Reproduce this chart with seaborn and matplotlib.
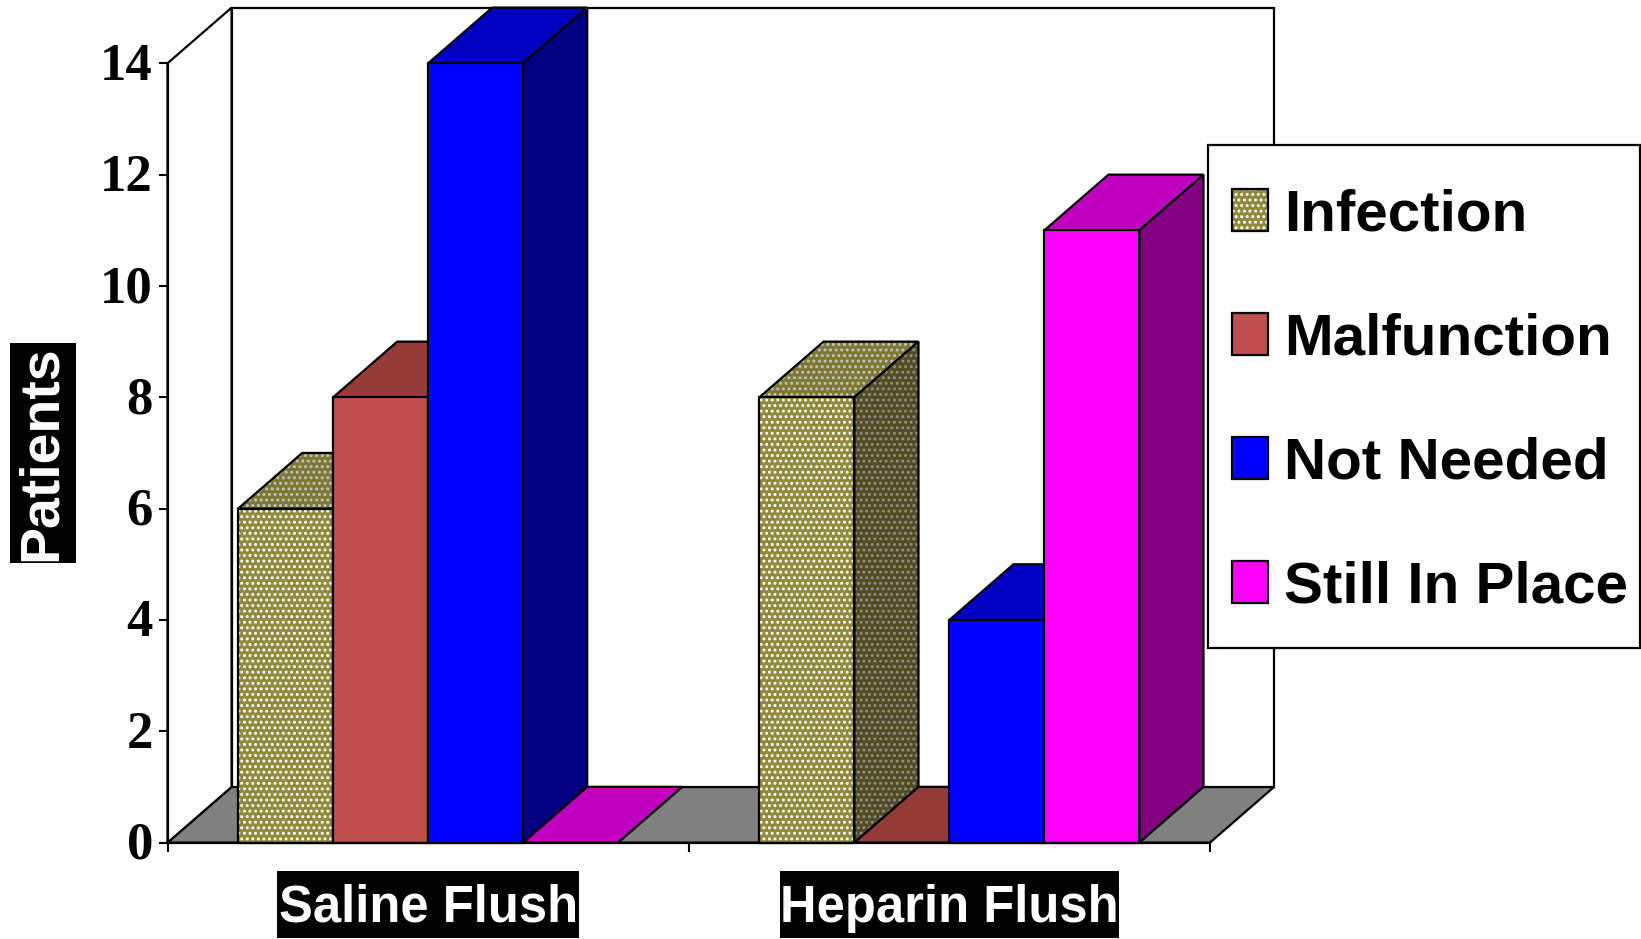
import matplotlib
matplotlib.use("Agg")
import matplotlib.pyplot as plt
import seaborn as sns
import pandas as pd
from matplotlib.patches import Patch, Polygon, Rectangle
from matplotlib.path import Path
from matplotlib.transforms import Affine2D
from matplotlib.legend_handler import HandlerTuple

groups = ["Saline Flush", "Heparin Flush"]
series = ["Infection", "Malfunction", "Not Needed", "Still In Place"]
infection = [6, 8]
malfunction = [8, 0]
not_needed = [14, 4]
still_in_place = [0, 11]
y_ticks = [0, 2, 4, 6, 8, 10, 12, 14]

front = ["#918A3C", "#C0504D", "#0000FF", "#FF00FF"]
top = ["#7D7834", "#953B39", "#0000C0", "#C000C0"]
side = ["#514D22", "#602826", "#000080", "#800080"]
dots = ["white", None, None, None]
top_dots = ["#C4C4C4", None, None, None]
side_dots = ["#909090", None, None, None]

sns.set_theme(style="white")
plt.rcParams["font.family"] = ["Liberation Sans", "DejaVu Sans"]
plt.rcParams["hatch.linewidth"] = 1.35

df = pd.DataFrame({
    "group": groups * 4,
    "kind": [s for s in series for _ in groups],
    "count": infection + malfunction + not_needed + still_in_place,
})

W, H = 1641, 939
fig = plt.figure(figsize=(W / 100, H / 100), dpi=100, facecolor="white")
ax = fig.add_axes([167.5 / W, 1 - 842.6 / H, (1210 - 167.5) / W, (842.6 - 63.3) / H])

sns.barplot(data=df, x="group", y="count", hue="kind", hue_order=series, order=groups,
            palette=front, saturation=1, width=0.729, gap=0, linewidth=0, legend=False, ax=ax)
ax.set_xlim(-0.5, 1.5)
ax.set_ylim(0, 14)
ax.patch.set_visible(False)

# depth of the fake 3d, in data units
dx, dy = 0.123, 1.0
black = dict(edgecolor="black", linewidth=1.6, facecolor="none", clip_on=False)


def face(pts, color, dot, z):
    ax.add_patch(Polygon(pts, closed=True, facecolor=color, edgecolor=dot or color,
                         hatch="..." if dot else None, linewidth=0, clip_on=False, zorder=z))
    ax.add_patch(Polygon(pts, closed=True, zorder=z, **black))


def label_box(half_w, half_h, shift):
    # black box of a set size round a label, sizes in pixels
    def box(x0, y0, w, h, mutation_size):
        cx, cy = x0 + w / 2, y0 + h / 2 + shift
        return Path([(cx - half_w, cy - half_h), (cx + half_w, cy - half_h), (cx + half_w, cy + half_h),
                     (cx - half_w, cy + half_h), (cx - half_w, cy - half_h)], closed=True)
    return box


# walls and floor
face([(-0.5, 0), (-0.5 + dx, dy), (1.5 + dx, dy), (1.5, 0)], "#808080", None, 1)
face([(-0.5, 0), (-0.5 + dx, dy), (-0.5 + dx, 14 + dy), (-0.5, 14)], "white", None, 1)
face([(-0.5 + dx, dy), (-0.5 + dx, 14 + dy), (1.5 + dx, 14 + dy), (1.5 + dx, dy)], "white", None, 1)

for i, bars in enumerate(ax.containers):
    z = 2 + 2 * i
    for bar in bars:
        x0, x1, h = bar.get_x(), bar.get_x() + bar.get_width(), bar.get_height()
        face([(x0, h), (x1, h), (x1 + dx, h + dy), (x0 + dx, h + dy)], top[i], top_dots[i], z)
        if h > 0:
            face([(x1, 0), (x1, h), (x1 + dx, h + dy), (x1 + dx, dy)], side[i], side_dots[i], z)
            bar.set_zorder(z + 1)
            if dots[i]:
                bar.set_edgecolor(dots[i])
                bar.set_hatch("...")
            ax.add_patch(Rectangle((x0, 0), x1 - x0, h, zorder=z + 1, **black))
        else:
            bar.set_visible(False)

# ticks sit between the groups, labels in the middle
ax.set_xticks([-0.5, 0.5, 1.5])
ax.set_xticklabels([])
ax.set_xticks([0, 1], minor=True)
ax.tick_params(axis="x", which="minor", length=0, pad=29.5)
ax.tick_params(axis="x", which="major", length=6.5, width=1.5, color="black", bottom=True)
ax.set_xticklabels(groups, minor=True, fontsize=36.5, fontweight="bold", color="white")
for lab, half_w in zip(ax.get_xticklabels(minor=True), [151, 169.5]):
    lab.set_bbox(dict(boxstyle=label_box(half_w, 33.5, 4), facecolor="black", edgecolor="none"))
ax.tick_params(axis="y", length=6.5, width=1.5, color="black", left=True, pad=4)
ax.set_yticks(y_ticks)
ax.set_yticklabels(y_ticks, fontsize=38, fontweight="bold", family="Liberation Serif", color="black")
for lab in ax.get_yticklabels():
    lab.set_transform(lab.get_transform() + Affine2D().translate(0, 2.2))
ax.set_xlabel("")
ax.set_ylabel("")
sns.despine(ax=ax)
for s in ["left", "bottom"]:
    ax.spines[s].set_color("black")
    ax.spines[s].set_linewidth(1.6)
    ax.spines[s].set_zorder(50)

fig.text(41.5 / W, 1 - 453 / H, "Patients", rotation=90, ha="center", va="center", fontsize=40,
         fontweight="bold", color="white",
         bbox=dict(boxstyle=label_box(110, 33, -1), facecolor="black", edgecolor="none"))

# legend frame is its own box, the legend padding is not the same on all sides
ax.add_patch(Rectangle((1208 / W, 1 - 648 / H), (1640 - 1208) / W, (648 - 145) / H, transform=fig.transFigure,
                       facecolor="white", edgecolor="black", linewidth=1.6, clip_on=False, zorder=99))
handles = []
for i in range(4):
    fill = Patch(facecolor=front[i], edgecolor=dots[i] or front[i], hatch="..." if dots[i] else None, linewidth=0)
    handles.append((fill, Patch(facecolor="none", edgecolor="black", linewidth=1.6)))
leg = ax.legend(handles, series, handler_map={tuple: HandlerTuple(ndivide=1, pad=0)},
                loc="upper left", bbox_to_anchor=(1232 / W, 1 - 188.5 / H), bbox_transform=fig.transFigure,
                prop=dict(family="Liberation Sans", weight="bold", size=42), labelcolor="black",
                frameon=False, borderaxespad=0, borderpad=0, handlelength=0.62, handleheight=0.71,
                handletextpad=0.28, labelspacing=1.2)
leg.set_zorder(100)

fig.savefig("out.png", dpi=100)
